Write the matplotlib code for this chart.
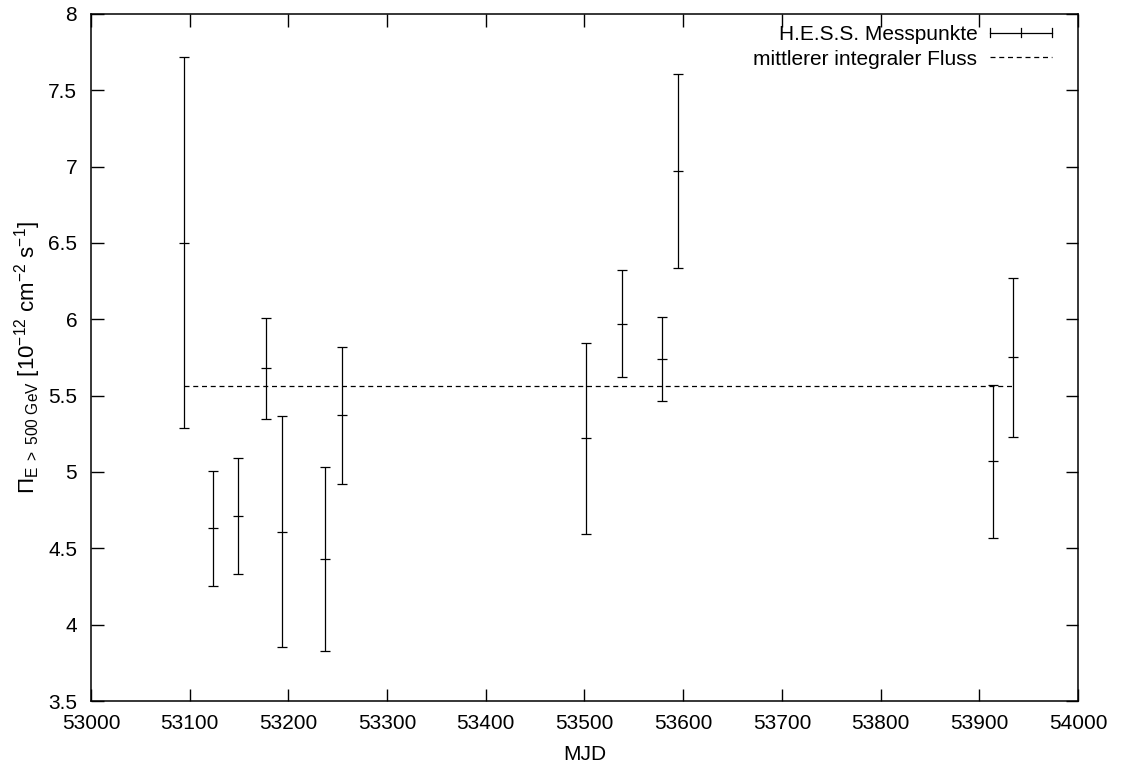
import matplotlib
matplotlib.use("Agg")
import matplotlib.pyplot as plt
from matplotlib.lines import Line2D
from matplotlib.legend_handler import HandlerBase
import numpy as np

plt.rcParams['font.family'] = ['Liberation Sans', 'DejaVu Sans']
plt.rcParams['mathtext.fontset'] = 'custom'
plt.rcParams['mathtext.rm'] = 'Liberation Sans'
plt.rcParams['mathtext.it'] = 'Liberation Sans'

# H.E.S.S. Messpunkte (MJD, Fluss, Fehler)
mjd = [53094, 53124, 53149, 53177, 53193, 53237, 53254,
       53502, 53538, 53579, 53595, 53914, 53934]
flux = [6.50, 4.63, 4.71, 5.68, 4.61, 4.43, 5.37,
        5.22, 5.97, 5.74, 6.97, 5.07, 5.75]
err = [1.215, 0.375, 0.38, 0.33, 0.755, 0.60, 0.447,
       0.625, 0.35, 0.277, 0.635, 0.50, 0.52]
mean_flux = 5.563

xticks = np.arange(53000, 54001, 100)
yticks = np.arange(3.5, 8.01, 0.5)
ytick_labels = ['3.5', '4', '4.5', '5', '5.5', '6', '6.5', '7', '7.5', '8']


class ErrbarHandler(HandlerBase):
    # gnuplot-artiges Legendensymbol: waagrechter Balken mit Endstrichen
    def create_artists(self, legend, orig_handle, xdescent, ydescent,
                       width, height, fontsize, trans):
        y = height / 2 - ydescent
        x0, x1 = -xdescent, width - xdescent
        h = height * 0.28
        arts = [Line2D([x0, x1], [y, y]),
                Line2D([x0, x0], [y - h, y + h]),
                Line2D([x1, x1], [y - h, y + h]),
                Line2D([(x0 + x1) / 2] * 2, [y - h, y + h])]
        for a in arts:
            a.set_color('black')
            a.set_linewidth(0.9)
            a.set_transform(trans)
        return arts


fig = plt.figure(figsize=(11.24, 7.67), dpi=100)
ax = fig.add_axes([0.081, 0.086, 0.878, 0.896])

ax.errorbar(mjd, flux, yerr=err, fmt='none', ecolor='black',
            elinewidth=0.9, capsize=3.4, capthick=0.9)
ax.plot(mjd, flux, linestyle='none', marker='_', markersize=7,
        markeredgewidth=0.9, color='black')
ax.plot([mjd[0], mjd[-1]], [mean_flux, mean_flux], color='black',
        linestyle=(0, (4, 3)), linewidth=0.9)

ax.set_xlim(53000, 54000)
ax.set_ylim(3.5, 8)
ax.set_xticks(xticks)
ax.set_yticks(yticks)
ax.set_yticklabels(ytick_labels)
ax.tick_params(direction='in', length=9, width=1, top=True, right=True,
               labelsize=15)
ax.tick_params(axis='x', pad=9)
ax.tick_params(axis='y', pad=10)
for s in ax.spines.values():
    s.set_linewidth(1.1)

ax.set_xlabel('MJD', fontsize=15, labelpad=9)
ax.set_ylabel(r'$\Pi_{\mathrm{E\ >\ 500\ GeV}}\ [10^{-12}\ \mathrm{cm}^{-2}\ \mathrm{s}^{-1}]$',
              fontsize=16, labelpad=4)

h1 = Line2D([], [], color='black')
h2 = Line2D([], [], color='black', linestyle=(0, (4, 3)), linewidth=0.9)
ax.legend([h1, h2], ['H.E.S.S. Messpunkte', 'mittlerer integraler Fluss'],
          handler_map={h1: ErrbarHandler()}, loc='upper right',
          bbox_to_anchor=(0.974, 0.984), borderaxespad=0, borderpad=0,
          frameon=False, markerfirst=False, fontsize=15, handlelength=3.0,
          labelspacing=0.28, handletextpad=0.6)

fig.savefig('out.png', dpi=100)
